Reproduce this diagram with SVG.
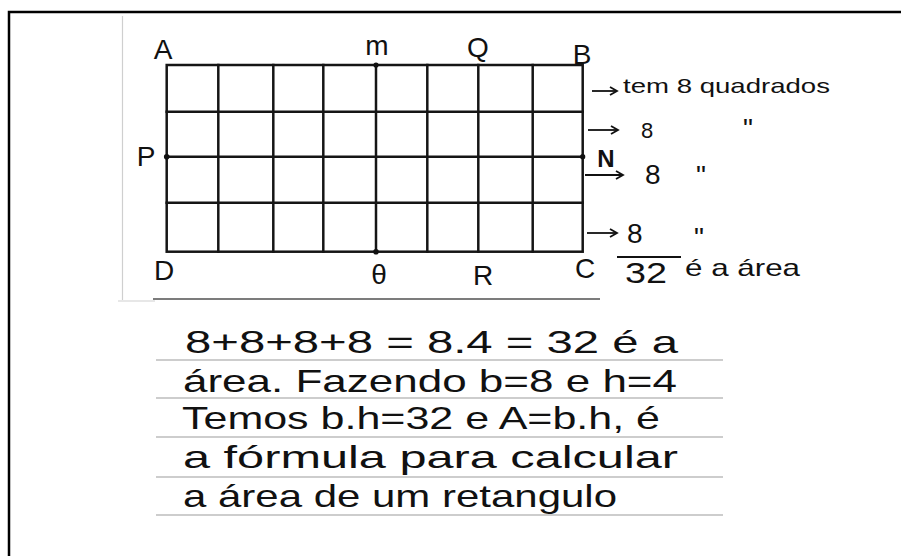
<svg xmlns="http://www.w3.org/2000/svg" width="901" height="556" viewBox="0 0 901 556">
<style>
.frame{fill:none;stroke:#000;stroke-width:2.5}
.scan{fill:none;stroke:#cfcfcf;stroke-width:1.2}
.grid{fill:none;stroke:#151515;stroke-width:2.5;stroke-linecap:square}
.rule{stroke:#bdbdbd;stroke-width:1.6}
.lbl{font-family:"Liberation Sans",Arial,sans-serif;font-size:28px;fill:#111}
.hw{font-family:"Liberation Sans",Arial,sans-serif;font-size:32px;fill:#111}
.note{font-family:"Liberation Sans",Arial,sans-serif;font-size:21px;fill:#111}
.big{font-size:28px}
.arr{fill:none;stroke:#111;stroke-width:1.8}
.dot{fill:#111}
</style>
<defs>
<marker id="ah" markerWidth="10" markerHeight="10" refX="8" refY="5" orient="auto" markerUnits="userSpaceOnUse">
<path d="M1,1 L8,5 L1,9" fill="none" stroke="#111" stroke-width="1.8"/>
</marker>
</defs>
<rect width="901" height="556" fill="#fff"/>
<rect class="frame" x="9" y="12" width="900" height="560"/>
<g id="scan-edges">
<line class="scan" x1="122.5" y1="16" x2="122.5" y2="300"/>
<line x1="153" y1="299" x2="600" y2="299" stroke="#333" stroke-width="1.6" opacity="0.85"/>
<line class="scan" x1="118" y1="301" x2="155" y2="301"/>
</g>
<g id="grid">
<rect class="grid" x="166.7" y="65" width="416" height="186.7"/>
<line class="grid" x1="218.3" y1="65" x2="218.3" y2="251.7"/>
<line class="grid" x1="273.3" y1="65" x2="273.3" y2="251.7"/>
<line class="grid" x1="323.3" y1="65" x2="323.3" y2="251.7"/>
<line class="grid" x1="376" y1="65" x2="376" y2="251.7"/>
<line class="grid" x1="427.3" y1="65" x2="427.3" y2="251.7"/>
<line class="grid" x1="478.3" y1="65" x2="478.3" y2="251.7"/>
<line class="grid" x1="532.7" y1="65" x2="532.7" y2="251.7"/>
<line class="grid" x1="166.7" y1="111.7" x2="582.7" y2="111.7"/>
<line class="grid" x1="166.7" y1="156.7" x2="582.7" y2="156.7"/>
<line class="grid" x1="166.7" y1="202.7" x2="582.7" y2="202.7"/>
<circle class="dot" cx="376" cy="65" r="2.6"/>
<circle class="dot" cx="166.7" cy="156.7" r="2.8"/>
<circle class="dot" cx="582.7" cy="156.7" r="2.6"/>
<circle class="dot" cx="376" cy="251.7" r="2.8"/>
</g>
<g id="labels">
<text class="lbl" x="163" y="59" text-anchor="middle">A</text>
<text class="lbl" x="377" y="55" text-anchor="middle">m</text>
<text class="lbl" x="478" y="57" text-anchor="middle">Q</text>
<text class="lbl" x="582" y="64" text-anchor="middle">B</text>
<text class="lbl" x="146" y="166" text-anchor="middle">P</text>
<text class="lbl" x="606" y="167" text-anchor="middle" font-weight="bold" style="font-size:24px">N</text>
<text class="lbl" x="164" y="280" text-anchor="middle">D</text>
<text class="lbl" x="379" y="284" text-anchor="middle">θ</text>
<text class="lbl" x="483" y="285" text-anchor="middle">R</text>
<text class="lbl" x="585" y="278" text-anchor="middle">C</text>
</g>
<g id="connectors">
<line class="arr" x1="592" y1="91" x2="617" y2="91" marker-end="url(#ah)"/>
<line class="arr" x1="588" y1="130" x2="618" y2="130" marker-end="url(#ah)"/>
<line class="arr" x1="585" y1="175" x2="623" y2="175" marker-end="url(#ah)"/>
<line class="arr" x1="587" y1="233" x2="617" y2="233" marker-end="url(#ah)"/>
</g>
<g id="row-notes">
<text class="note" x="623" y="93" textLength="207" lengthAdjust="spacingAndGlyphs">tem 8 quadrados</text>
<text class="note" x="641" y="138" style="font-size:22px">8</text>
<text class="note big" x="743" y="138">"</text>
<text class="note big" x="645" y="184">8</text>
<text class="note big" x="696" y="185">"</text>
<text class="note big" x="627" y="243">8</text>
<text class="note big" x="694" y="247">"</text>
<line x1="617" y1="257" x2="681" y2="257" stroke="#111" stroke-width="2"/>
<text class="note" x="625" y="283" style="font-size:30px" textLength="42" lengthAdjust="spacingAndGlyphs">32</text>
<text class="note" x="685" y="276" style="font-size:24px" textLength="115" lengthAdjust="spacingAndGlyphs">é a área</text>
</g>
<g id="notebook">
<line class="rule" x1="156" y1="360" x2="723" y2="360"/>
<line class="rule" x1="156" y1="398" x2="723" y2="398"/>
<line class="rule" x1="156" y1="437" x2="723" y2="437"/>
<line class="rule" x1="156" y1="477" x2="723" y2="477"/>
<line class="rule" x1="156" y1="515" x2="723" y2="515"/>
<text class="hw" x="185" y="353" textLength="493" lengthAdjust="spacingAndGlyphs">8+8+8+8 = 8.4 = 32 é a</text>
<text class="hw" x="183" y="392" textLength="494" lengthAdjust="spacingAndGlyphs">área. Fazendo b=8 e h=4</text>
<text class="hw" x="182" y="429" textLength="478" lengthAdjust="spacingAndGlyphs">Temos b.h=32 e A=b.h, é</text>
<text class="hw" x="183" y="468" textLength="495" lengthAdjust="spacingAndGlyphs">a fórmula para calcular</text>
<text class="hw" x="183" y="507" textLength="434" lengthAdjust="spacingAndGlyphs">a área de um retangulo</text>
</g>
</svg>
